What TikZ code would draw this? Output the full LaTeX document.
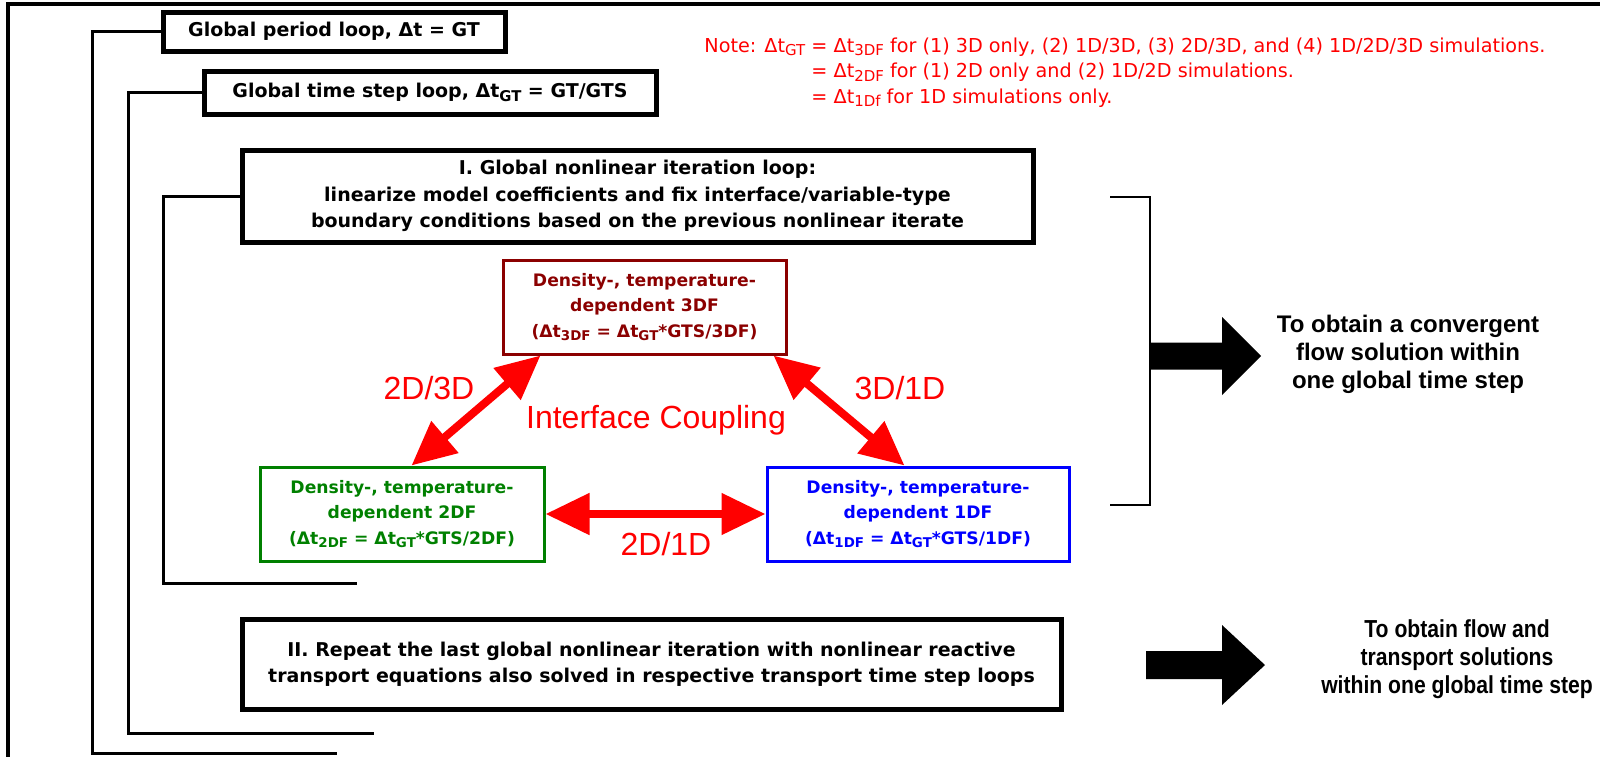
\documentclass[tikz,border=0pt]{standalone}
\usepackage{fontspec}
\setmainfont{DejaVu Sans}
\newfontfamily\notefont{DejaVu Sans}
\newfontfamily\arialf{Liberation Sans}
\newfontfamily\narrowf{Liberation Sans}[FakeStretch=0.86]
\usetikzlibrary{arrows.meta}
\definecolor{fdred}{HTML}{8B0000}
\definecolor{fgreen}{HTML}{008000}
\definecolor{fblue}{HTML}{0000FF}
\definecolor{nred}{HTML}{FF0000}
% lowered subscript, a little larger than \textsubscript
\newcommand{\lsub}[1]{\raisebox{-0.32ex}{\fontsize{0.78em}{1em}\selectfont #1}}
\tikzset{
  loopbox/.style={draw, line width=2.5pt, align=center, inner sep=0pt,
    font=\bfseries\fontsize{9.5}{13.25}\selectfont},
  dfbox/.style={draw=#1, text=#1, line width=1.5pt, align=center, inner sep=0pt,
    minimum height=47pt, font=\bfseries\fontsize{8.6}{12.75}\selectfont},
  bracket/.style={line width=1.5pt, line cap=rect},
  thinbracket/.style={line width=1.1pt},
  redarrow/.style={draw=nred, line width=4pt,
    {Triangle[length=22pt,width=20pt]}-{Triangle[length=22pt,width=20pt]}},
  redlabel/.style={text=nred, font=\arialf\fontsize{16}{19}\selectfont},
  resulttext/.style={align=center, inner sep=0pt},
  bigarrow/.style={fill=black}
}
\begin{document}
\begin{tikzpicture}[x=0.5pt,y=-0.5pt]
\useasboundingbox (0,0) rectangle (1600,757);

% outer frame (top and left edges only)
\coordinate (frTR) at (1600,4);
\coordinate (frTL) at (8,4);
\coordinate (frBL) at (8,757);
\draw[line width=1.8pt] (frTR) -- (frTL) -- (frBL);

% loop boxes
\node[loopbox, minimum width=171pt, minimum height=19.5pt] (period) at (334,31.5)
  {Global period loop, Δt = GT};
\node[loopbox, minimum width=226pt, minimum height=21.5pt] (tstep) at (430,92.5)
  {Global time step loop, Δt\lsub{GT} = GT/GTS};
\node[loopbox, minimum width=395.5pt, minimum height=46pt] (loopI) at (637.5,196)
  {I. Global nonlinear iteration loop:\\
   linearize model coefficients and fix interface/variable-type\\
   boundary conditions based on the previous nonlinear iterate};
\node[loopbox, minimum width=409.5pt, minimum height=45pt] (loopII) at (651.5,664)
  {II. Repeat the last global nonlinear iteration with nonlinear reactive\\
   transport equations also solved in respective transport time step loops};

% loop brackets
\coordinate (b1c) at (92,753);   \coordinate (b1e) at (335,753);
\coordinate (b2c) at (128,733);  \coordinate (b2e) at (372,733);
\coordinate (b3c) at (163,583);  \coordinate (b3e) at (355,583);
\draw[bracket] (period.west) -| (b1c) -- (b1e);
\draw[bracket] (tstep.west) -| (b2c) -- (b2e);
\draw[bracket] (loopI.west) -| (b3c) -- (b3e);

% flow solver boxes
\node[dfbox=fdred, minimum width=141.5pt] (f3) at (644.5,307)
  {Density-, temperature-\\dependent 3DF\\(Δt\lsub{3DF} = Δt\lsub{GT}*GTS/3DF)};
\node[dfbox=fgreen, minimum width=142pt] (f2) at (402,514)
  {Density-, temperature-\\dependent 2DF\\(Δt\lsub{2DF} = Δt\lsub{GT}*GTS/2DF)};
\node[dfbox=fblue, minimum width=151pt] (f1) at (918,514)
  {Density-, temperature-\\dependent 1DF\\(Δt\lsub{1DF} = Δt\lsub{GT}*GTS/1DF)};

% interface couplings
\draw[redarrow] ([xshift=19.5pt]f3.south west) -- ([xshift=76.5pt]f2.north west);
\draw[redarrow] ([xshift=-7pt]f3.south east) -- ([xshift=69.5pt]f1.north west);
\draw[redarrow] (f2.east) -- (f1.west);
\node[redlabel] (l23) at (429,388) {2D/3D};
\node[redlabel] (l31) at (900,388) {3D/1D};
\node[redlabel] (lic) at (656,420) {Interface Coupling};
\node[redlabel] (l21) at (666,544) {2D/1D};

% right bracket around the nonlinear iteration
\coordinate (rbT) at (1110,197);
\coordinate (rbB) at (1110,505);
\coordinate (rbM) at (1150,356);
\draw[thinbracket] (rbT) -- (1150,197) -- (1150,505) -- (rbB);

% result arrows
\fill[bigarrow] (rbM) ++(0,-13.5) -- ++(72,0) -- ++(0,-25.5) -- ++(39,39)
  -- ++(-39,39) -- ++(0,-25.5) -- ++(-72,0) -- cycle;
\coordinate (a2s) at (1146,665);
\fill[bigarrow] (a2s) ++(0,-14) -- ++(76,0) -- ++(0,-26) -- ++(43,40)
  -- ++(-43,40) -- ++(0,-26) -- ++(-76,0) -- cycle;

\node[resulttext, font=\arialf\bfseries\fontsize{12}{14}\selectfont] (res1) at (1408,354)
  {To obtain a convergent\\flow solution within\\one global time step};
\node[resulttext, font=\narrowf\bfseries\fontsize{12.3}{14}\selectfont] (res2) at (1457,659)
  {To obtain flow and\\transport solutions\\within one global time step};

% note on the global time step
\node[anchor=north west, inner sep=0pt, text=nred,
      font=\notefont\fontsize{9.6}{12.75}\selectfont] (note) at (704,34)
  {\begin{tabular}{@{}l@{}l@{}}
   Note: Δt\lsub{GT} & \ = Δt\lsub{3DF} for (1) 3D only, (2) 1D/3D, (3) 2D/3D, and (4) 1D/2D/3D simulations.\\
   & \ = Δt\lsub{2DF} for (1) 2D only and (2) 1D/2D simulations.\\
   & \ = Δt\lsub{1Df} for 1D simulations only.
   \end{tabular}};
\end{tikzpicture}
\end{document}
